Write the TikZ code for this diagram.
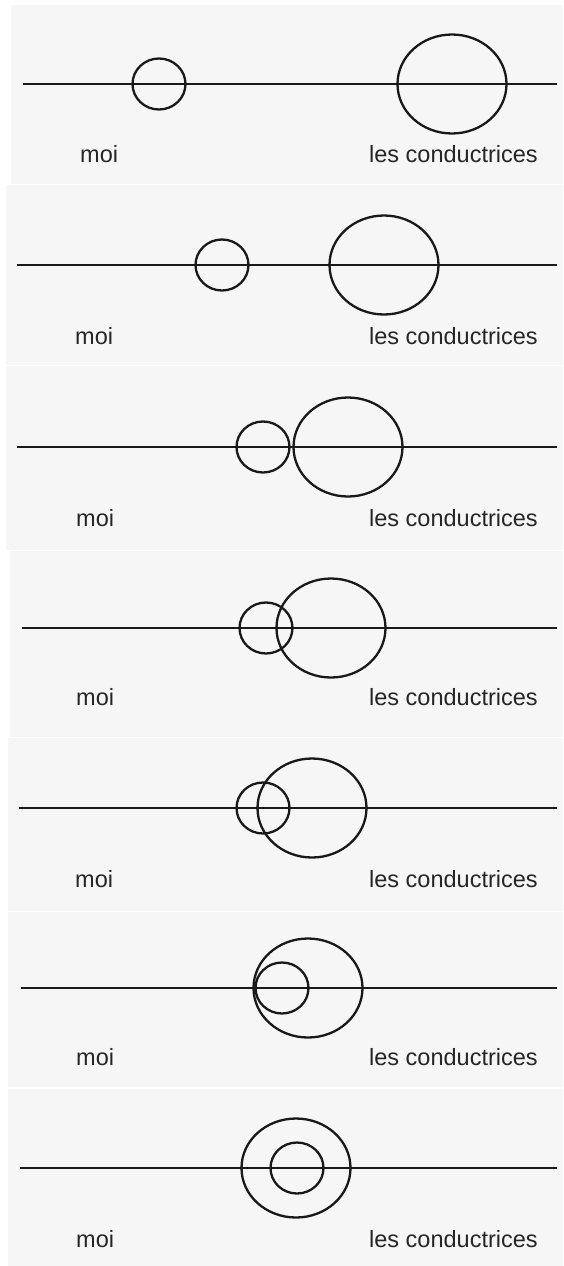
\documentclass[tikz,border=0pt]{standalone}
\usepackage{fontspec}
\setmainfont{Liberation Sans}
\begin{document}
\begin{tikzpicture}[x=1pt,y=-1pt,
  panel/.style={fill=panelgray,draw=none},
  axis/.style={line width=2.9pt,color=black!90},
  ring/.style={line width=2.3pt,color=black!90},
  lbl/.style={anchor=base west,inner sep=0pt,font=\fontsize{23.5}{26}\selectfont,text=black!85}]
\definecolor{panelgray}{HTML}{F6F6F6}
\useasboundingbox (0,0) rectangle (563,1266);
\fill[white] (0,0) rectangle (563,1266);
% panels
\fill[panel] (11,5) rectangle (563,184);
\fill[panel] (6,185) rectangle (563,365);
\fill[panel] (6,366) rectangle (563,550);
\fill[panel] (10,551) rectangle (563,737);
\fill[panel] (8,738) rectangle (563,911);
\fill[panel] (8,912) rectangle (563,1087);
\fill[panel] (8,1089) rectangle (563,1266);
% data: line y, line x start, small cx, large cx, label baseline, moi x
\foreach \i/\ly/\lx/\sx/\bx/\tb/\mx in {
  1/84/23/159/452/162/80,
  2/265/17/222/384/344/75,
  3/447/17/263/348/526/76,
  4/628/22/266/331/705/76,
  5/808/19/263/312/887/75,
  6/988/21/282/308/1065/76,
  7/1168/20/297/296/1247/76}{
  \coordinate (L\i a) at (\lx,\ly);
  \coordinate (L\i b) at (557,\ly);
  \coordinate (S\i) at (\sx,\ly);
  \coordinate (B\i) at (\bx,\ly);
  \draw[axis] (L\i a) -- (L\i b);
  \draw[ring] (S\i) ellipse [x radius=26.5, y radius=25.5];
  \draw[ring] (B\i) ellipse [x radius=54.5, y radius=49.5];
  \node[lbl] (moi\i) at (\mx,\tb) {moi};
  \node[lbl] (cond\i) at (369,\tb) {les conductrices};
}
\end{tikzpicture}
\end{document}
